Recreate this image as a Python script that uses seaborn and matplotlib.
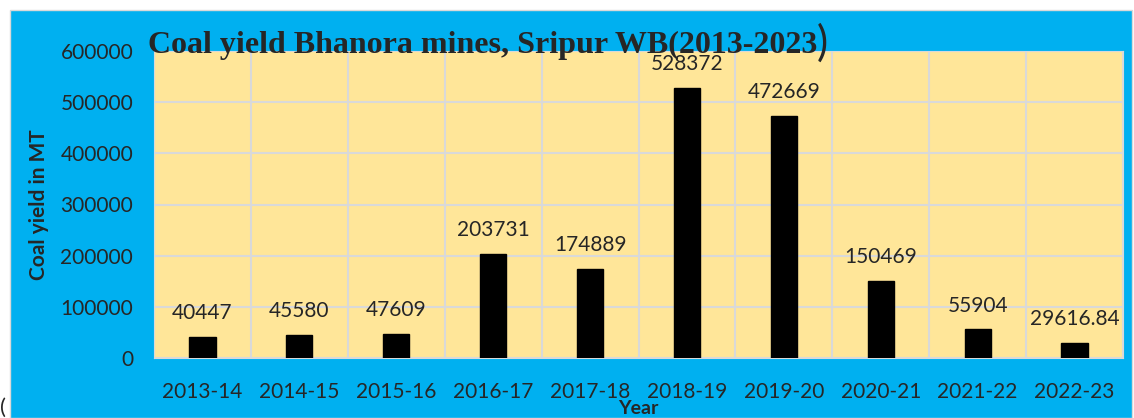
import pandas as pd
import numpy as np
import seaborn as sns
import matplotlib.pyplot as plt
from matplotlib.patches import Rectangle

years = ['2013-14', '2014-15', '2015-16', '2016-17', '2017-18',
         '2018-19', '2019-20', '2020-21', '2021-22', '2022-23']
yield_mt = [40447, 45580, 47609, 203731, 174889,
            528372, 472669, 150469, 55904, 29616.84]
bar_labels = ['40447', '45580', '47609', '203731', '174889',
              '528372', '472669', '150469', '55904', '29616.84']
y_ticks = [0, 100000, 200000, 300000, 400000, 500000, 600000]

df = pd.DataFrame({'Year': years, 'Yield': yield_mt})

sns.set_style("white")
plt.rcParams['font.family'] = ['Lato', 'DejaVu Sans']

fig = plt.figure(figsize=(11.34, 4.18), dpi=100)
fig.patch.set_facecolor('white')
# blue chart area behind everything
fig.patches.append(Rectangle((10 / 1134, 0), 1122 / 1134, 1 - 10 / 418,
                             transform=fig.transFigure, facecolor='#00B0F0',
                             edgecolor='#D9D9D9', lw=1, zorder=-1))

ax = fig.add_axes([154 / 1134, 1 - 358 / 418, 969 / 1134, 307 / 418])
ax.set_facecolor('#FFE699')

sns.barplot(data=df, x='Year', y='Yield', color='black', width=0.27,
            saturation=1, edgecolor='black', ax=ax, zorder=3)
ax.bar_label(ax.containers[0], labels=bar_labels, padding=10, fontsize=15)

ax.set_ylim(0, 600000)
ax.set_yticks(y_ticks)
ax.set_yticklabels([str(t) for t in y_ticks])
ax.set_xlim(-0.5, len(years) - 0.5)
ax.set_xticks(np.arange(len(years) + 1) - 0.5, minor=True)
ax.grid(axis='y', color='#D9D9D9', lw=1.5, zorder=0)
ax.grid(axis='x', which='minor', color='#D9D9D9', lw=1.5, zorder=0)
ax.tick_params(axis='both', which='both', length=0, labelsize=15)
ax.tick_params(axis='x', pad=17)
ax.tick_params(axis='y', pad=15)
for s in ax.spines.values():
    s.set_color('#D9D9D9')

ax.set_xlabel('Year', fontsize=14, fontweight='bold', labelpad=-1)
ax.set_ylabel('Coal yield in MT', fontsize=15, fontweight='bold', labelpad=8)

fig.text(148 / 1134, 1 - 53 / 418, 'Coal yield Bhanora mines, Sripur WB(2013-2023',
         fontfamily='Liberation Serif', fontweight='bold', fontsize=23,
         ha='left', va='baseline')
fig.text(817 / 1134, 1 - 56 / 418, ')', fontsize=30, ha='left', va='baseline')
fig.text(0, 0, '(', fontsize=16, ha='left', va='bottom')

plt.savefig('out.png', dpi=100)
